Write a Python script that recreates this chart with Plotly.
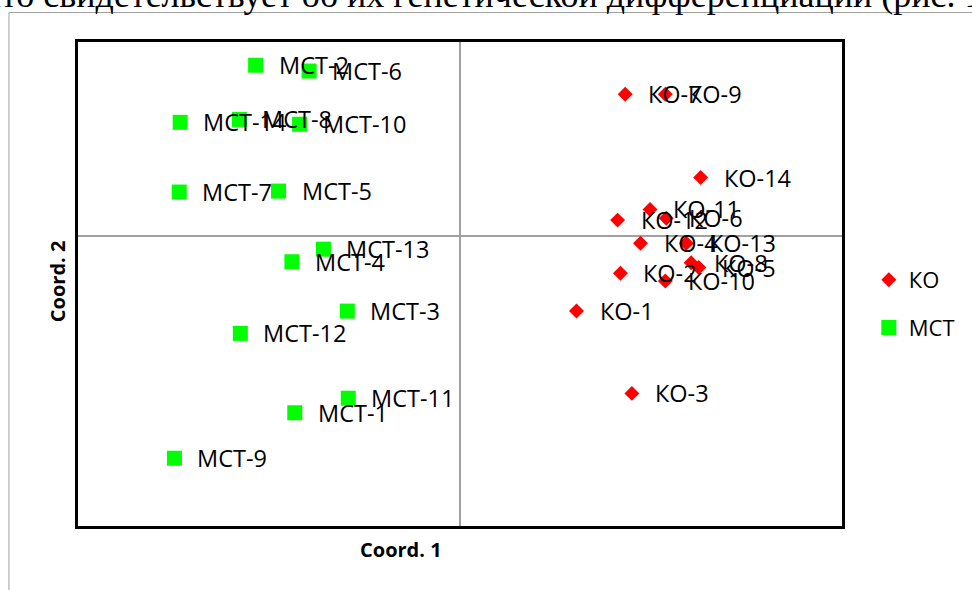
import plotly.graph_objects as go

# ---- data ----
mct_labels = ["МСТ-1", "МСТ-2", "МСТ-3", "МСТ-4", "МСТ-5", "МСТ-6", "МСТ-7",
              "МСТ-8", "МСТ-9", "МСТ-10", "МСТ-11", "МСТ-12", "МСТ-13", "МСТ-14"]
mct_x = [-0.173, -0.214, -0.118, -0.176, -0.190, -0.158, -0.294,
         -0.231, -0.299, -0.168, -0.117, -0.230, -0.143, -0.293]
mct_y = [-0.183, 0.176, -0.078, -0.027, 0.046, 0.170, 0.045,
         0.120, -0.230, 0.115, -0.168, -0.101, -0.014, 0.117]

ko_labels = ["КО-1", "КО-2", "КО-3", "КО-4", "КО-5", "КО-6", "КО-7",
             "КО-8", "КО-9", "КО-10", "КО-11", "КО-12", "КО-13", "КО-14"]
ko_x = [0.122, 0.168, 0.180, 0.189, 0.250, 0.216, 0.173,
        0.242, 0.215, 0.215, 0.199, 0.165, 0.237, 0.252]
ko_y = [-0.078, -0.039, -0.163, -0.008, -0.033, 0.018, 0.146,
        -0.028, 0.146, -0.047, 0.027, 0.016, -0.008, 0.060]

x_title = "Coord. 1"
y_title = "Coord. 2"
top_text = "что свидетельствует об их генетической дифференциации (рис. 1)."

# ---- layout geometry ----
W, H = 972, 590
L, R, T, B = 78, 847, 42, 526
font_lbl = "Open Sans"


def px(xp):
    return (xp - L) / (R - L)


def py(yp):
    return (B - yp) / (B - T)


fig = go.Figure()
fig.add_trace(go.Scatter(
    x=ko_x, y=ko_y, mode="markers", name="КО", legendgroup="ko",
    marker=dict(symbol="diamond", size=11.5, color="#FF0000", line=dict(width=0)),
))
fig.add_trace(go.Scatter(
    x=mct_x, y=mct_y, mode="markers", name="МСТ", legendgroup="mct",
    marker=dict(symbol="square", size=15, color="#00FF00", line=dict(width=0)),
))

annotations = []
for lbl, xv, yv in zip(mct_labels + ko_labels, mct_x + ko_x, mct_y + ko_y):
    annotations.append(dict(
        x=xv, y=yv, xref="x", yref="y", text=lbl, showarrow=False,
        xanchor="left", yanchor="middle", xshift=21,
        font=dict(family=font_lbl, size=23.5, color="#000000"),
    ))

annotations.append(dict(
    x=px(403), y=py(549), xref="paper", yref="paper", text="<b>" + x_title + "</b>",
    showarrow=False, xanchor="center", yanchor="middle",
    font=dict(family=font_lbl, size=20, color="#000000"),
))
annotations.append(dict(
    x=px(57), y=py(281), xref="paper", yref="paper", text="<b>" + y_title + "</b>",
    showarrow=False, xanchor="center", yanchor="middle", textangle=-90,
    font=dict(family=font_lbl, size=20, color="#000000"),
))
annotations.append(dict(
    x=px(-20), y=py(17), xref="paper", yref="paper", text=top_text,
    showarrow=False, xanchor="left", yanchor="bottom",
    font=dict(family="Liberation Serif", size=36, color="#000000"),
))

shapes = [dict(
    type="rect", xref="paper", yref="paper",
    x0=px(8.5), x1=px(990), y0=py(12.5), y1=py(610),
    line=dict(color="#A0A0A0", width=1), fillcolor="rgba(0,0,0,0)", layer="below",
)]

fig.update_layout(
    width=W, height=H,
    margin=dict(l=L, r=W - R, t=T, b=H - B, pad=0),
    paper_bgcolor="white", plot_bgcolor="white",
    showlegend=True,
    legend=dict(
        x=px(874), y=py(259), xanchor="left", yanchor="top",
        font=dict(family=font_lbl, size=22, color="#000000"),
        traceorder="grouped", tracegroupgap=16, itemwidth=30,
        bgcolor="rgba(0,0,0,0)",
    ),
    xaxis=dict(
        range=[-0.4, 0.4], showticklabels=False, ticks="", showgrid=False,
        zeroline=True, zerolinecolor="#A0A0A0", zerolinewidth=1.5,
        showline=True, linecolor="#000000", linewidth=2.5, mirror=True,
        fixedrange=True,
    ),
    yaxis=dict(
        range=[-0.3, 0.2], showticklabels=False, ticks="", showgrid=False,
        zeroline=True, zerolinecolor="#A0A0A0", zerolinewidth=1.5,
        showline=True, linecolor="#000000", linewidth=2.5, mirror=True,
        fixedrange=True,
    ),
    annotations=annotations,
    shapes=shapes,
)

fig.write_html(
    "out.html",
    config={"displayModeBar": False},
    post_script="document.body.style.margin='0';document.body.style.padding='0';"
                "document.body.style.overflow='hidden';",
)
